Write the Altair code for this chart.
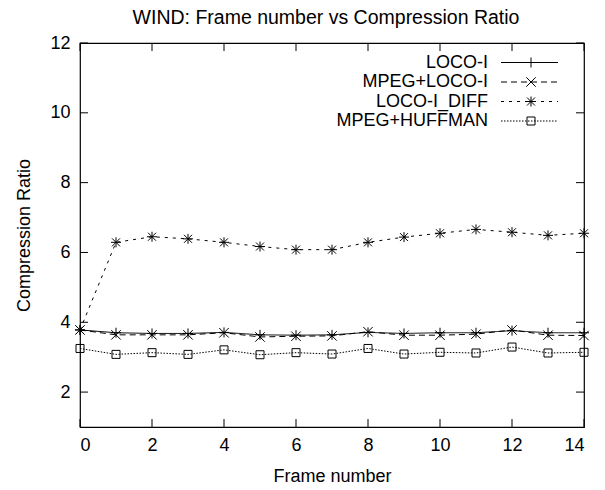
import altair as alt
import pandas as pd

# ---------------- data ----------------
frames = list(range(15))
loco_i = [3.78, 3.70, 3.68, 3.68, 3.71, 3.64, 3.63, 3.64, 3.71, 3.68, 3.70, 3.70, 3.76, 3.70, 3.70]
mpeg_loco_i = [3.78, 3.64, 3.64, 3.64, 3.70, 3.58, 3.60, 3.61, 3.73, 3.63, 3.63, 3.66, 3.78, 3.63, 3.62]
loco_i_diff = [3.78, 6.29, 6.45, 6.39, 6.29, 6.17, 6.08, 6.08, 6.29, 6.44, 6.55, 6.66, 6.58, 6.49, 6.55]
mpeg_huffman = [3.25, 3.08, 3.13, 3.08, 3.21, 3.07, 3.13, 3.09, 3.25, 3.09, 3.14, 3.12, 3.29, 3.12, 3.14]
series_names = ["LOCO-I", "MPEG+LOCO-I", "LOCO-I_DIFF", "MPEG+HUFFMAN"]
series_values = [loco_i, mpeg_loco_i, loco_i_diff, mpeg_huffman]
x_ticks = [0, 2, 4, 6, 8, 10, 12, 14]
y_ticks = [2, 4, 6, 8, 10, 12]
chart_title = ["WIND: Frame number vs Compression Ratio"]

# ---------------- styles ----------------
FONT = "Liberation Sans"
W, H = 504, 384
TICK = 8

PLUS = "M-1,0L1,0M0,-1L0,1"
CROSS = "M-1,-1L1,1M-1,1L1,-1"
STAR = PLUS + "M-0.8,-0.8L0.8,0.8M-0.8,0.8L0.8,-0.8"
SQUARE = "M-1,-1L1,-1L1,1L-1,1Z"
styles = [
    dict(dash=[1, 0], shape=PLUS, size=100),
    dict(dash=[6, 4], shape=CROSS, size=90),
    dict(dash=[3, 5], shape=STAR, size=100),
    dict(dash=[1.5, 1.5], shape=SQUARE, size=64),
]

xscale = alt.Scale(domain=[0, 14], nice=False, zero=False)
yscale = alt.Scale(domain=[1, 12], nice=False, zero=False)
xaxis = alt.Axis(values=x_ticks, title="Frame number", ticks=False, tickSize=0, grid=False,
                 domain=False, labelPadding=9, titlePadding=13, format="d")
yaxis = alt.Axis(values=y_ticks, title="Compression Ratio", ticks=False, tickSize=0, grid=False,
                 domain=False, labelPadding=10, titlePadding=16, format="d")
X = alt.X("frame:Q", scale=xscale, axis=xaxis)
Y = alt.Y("value:Q", scale=yscale, axis=yaxis)

layers = []

# inward tick marks on all four sides
ydf = pd.DataFrame({"value": y_ticks})
xdf = pd.DataFrame({"frame": x_ticks})
layers.append(alt.Chart(ydf).mark_rule(color="black", strokeWidth=1).encode(
    y=Y, x=alt.value(0), x2=alt.value(TICK)))
layers.append(alt.Chart(ydf).mark_rule(color="black", strokeWidth=1).encode(
    y=Y, x=alt.value(W - TICK), x2=alt.value(W)))
layers.append(alt.Chart(xdf).mark_rule(color="black", strokeWidth=1).encode(
    x=X, y=alt.value(H), y2=alt.value(H - TICK)))
layers.append(alt.Chart(xdf).mark_rule(color="black", strokeWidth=1).encode(
    x=X, y=alt.value(0), y2=alt.value(TICK)))

# series
for name, vals, st in zip(series_names, series_values, styles):
    df = pd.DataFrame({"frame": frames, "value": vals, "series": name})
    base = alt.Chart(df).encode(x=X, y=Y)
    layers.append(base.mark_line(color="black", strokeWidth=1, strokeDash=st["dash"]))
    layers.append(base.mark_point(shape=st["shape"], filled=False, color="black",
                                  strokeWidth=1, size=st["size"], opacity=1))

# legend (gnuplot style: label left, sample right)
legend_rows = [19.5, 39, 58.5, 78]
for name, st, ry in zip(series_names, styles, legend_rows):
    ldf = pd.DataFrame({"label": [name]})
    layers.append(alt.Chart(ldf).mark_text(align="right", baseline="middle", font=FONT,
                                           fontSize=18, color="black").encode(
        text="label:N", x=alt.value(408), y=alt.value(ry)))
    layers.append(alt.Chart(ldf).mark_rule(color="black", strokeWidth=1, strokeDash=st["dash"]).encode(
        x=alt.value(421), x2=alt.value(478), y=alt.value(ry)))
    layers.append(alt.Chart(ldf).mark_point(shape=st["shape"], filled=False, color="black",
                                            strokeWidth=1, size=st["size"], opacity=1).encode(
        x=alt.value(451), y=alt.value(ry)))

# chart title as a text mark above the plot
tdf = pd.DataFrame({"t": chart_title})
layers.append(alt.Chart(tdf).mark_text(align="center", baseline="alphabetic", font=FONT,
                                       fontSize=19.5, color="black").encode(
    text="t:N", x=alt.value(W / 2 - 6), y=alt.value(-19)))

chart = alt.layer(*layers).properties(
    width=W, height=H,
    autosize=alt.AutoSizeParams(type="none"),
    padding={"left": 80, "top": 43, "right": 21, "bottom": 63},
    background="white",
).configure_view(stroke="black", strokeWidth=1.2).configure_axis(
    labelFont=FONT, titleFont=FONT, labelFontSize=18, titleFontSize=18,
    labelColor="black", titleColor="black", titleFontWeight="normal",
)

chart.save("out.html", embed_options={"renderer": "svg", "actions": False})
